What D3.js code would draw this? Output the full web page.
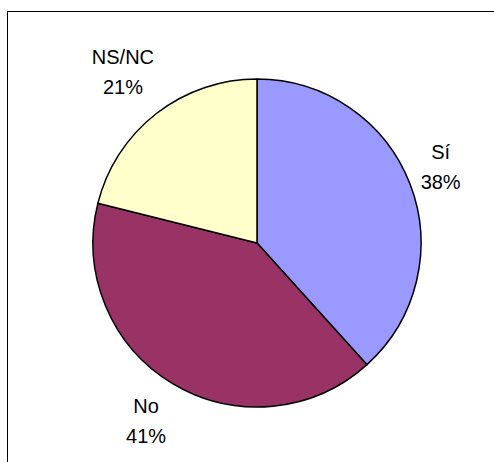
<!DOCTYPE html>
<html>
<head>
<meta charset="utf-8">
<script src="https://cdn.jsdelivr.net/npm/d3@7"></script>
<style>
  body { margin: 0; background: #fff; }
  text { font-family: "Liberation Sans", Arial, sans-serif; }
</style>
</head>
<body>
<svg id="chart" width="494" height="462"></svg>
<script>
// data
const categories = ["Sí", "No", "NS/NC"];
const values = [38.3, 40.6, 21.1];
const percentLabels = ["38%", "41%", "21%"];
const colors = ["#9999FF", "#993366", "#FFFFCC"];
// small shifts from the default label spot, as in the original
const labelNudge = [[-3, -4], [-8, 6], [-11, -13]];

const svg = d3.select("#chart");
const cx = 257, cy = 243, radius = 164;

// chart area frame (runs off the right and bottom of the picture)
svg.append("rect")
   .attr("x", 7.5)
   .attr("y", 11.5)
   .attr("width", 500)
   .attr("height", 470)
   .attr("fill", "none")
   .attr("stroke", "#000")
   .attr("stroke-width", 1);

const pie = d3.pie().sort(null).value(d => d)(values);
const arc = d3.arc().innerRadius(0).outerRadius(radius);
const labelArc = d3.arc().innerRadius(200).outerRadius(200);

const g = svg.append("g").attr("transform", `translate(${cx},${cy})`);

g.selectAll("path")
   .data(pie)
   .join("path")
   .attr("d", arc)
   .attr("fill", (d, i) => colors[i])
   .attr("stroke", "#000")
   .attr("stroke-width", 1.5)
   .attr("stroke-linejoin", "round");

const labels = g.selectAll("g.lbl")
   .data(pie)
   .join("g")
   .attr("class", "lbl")
   .attr("transform", (d, i) => {
      const [x, y] = labelArc.centroid(d);
      return `translate(${x + labelNudge[i][0]},${y + labelNudge[i][1]})`;
   });

labels.append("text")
   .attr("text-anchor", "middle")
   .attr("y", -8)
   .attr("font-size", "20px")
   .text((d, i) => categories[i]);

labels.append("text")
   .attr("text-anchor", "middle")
   .attr("y", 22)
   .attr("font-size", "20px")
   .text((d, i) => percentLabels[i]);
</script>
</body>
</html>
